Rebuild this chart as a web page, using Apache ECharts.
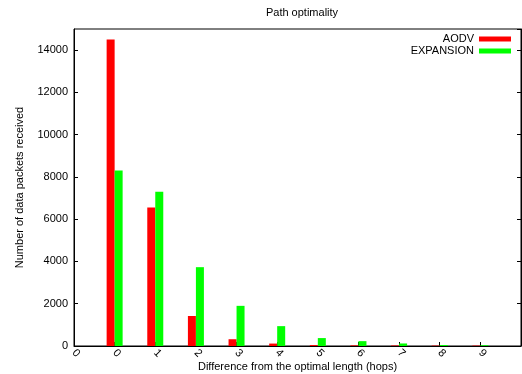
<!DOCTYPE html>
<html>
<head>
<meta charset="utf-8">
<script src="https://cdn.jsdelivr.net/npm/echarts@6/dist/echarts.min.js"></script>
<style>
html,body{margin:0;padding:0;background:#fff;}
#chart{width:522px;height:374px;}
</style>
</head>
<body>
<div id="chart"></div>
<script>
// Data
const hops = [0, 1, 2, 3, 4, 5, 6, 7, 8, 9];
const aodv = [14500, 6550, 1420, 320, 115, 45, 30, 25, 20, 20];
const expansion = [8300, 7300, 3730, 1900, 940, 375, 230, 120, 45, 35];
// tick labels for positions -1 .. 9
const xTickLabels = ['0', '0', '1', '2', '3', '4', '5', '6', '7', '8', '9'];
const seriesNames = ['AODV', 'EXPANSION'];

const font = 'Liberation Sans, Arial, sans-serif';
const chart = echarts.init(document.getElementById('chart'), null, {renderer: 'canvas'});
chart.setOption({
  animation: false,
  backgroundColor: '#fff',
  textStyle: {fontFamily: font},
  title: {
    text: 'Path optimality',
    left: 297,
    textAlign: 'center',
    top: 2,
    textStyle: {fontSize: 11, fontWeight: 'normal', color: '#000', fontFamily: font}
  },
  legend: {
    data: seriesNames,
    orient: 'vertical',
    right: 11,
    top: 33,
    align: 'right',
    icon: 'rect',
    itemWidth: 32,
    itemHeight: 5,
    itemGap: 0,
    textStyle: {fontSize: 11, color: '#000', fontFamily: font, lineHeight: 12},
    padding: 0
  },
  grid: {
    left: 74, right: 1, top: 29, bottom: 28,
    containLabel: false,
    outerBoundsMode: 'none',
    show: true, borderColor: '#000', borderWidth: 1, backgroundColor: 'transparent'
  },
  xAxis: {
    type: 'value',
    min: -1, max: 10, interval: 1,
    name: 'Difference from the optimal length (hops)',
    nameLocation: 'middle',
    nameGap: 15,
    nameMoveOverlap: false,
    nameTextStyle: {fontSize: 11, color: '#000', fontFamily: font},
    axisLine: {show: true, onZero: false, lineStyle: {color: '#000', width: 1}},
    axisTick: {show: true, inside: true, length: 4, lineStyle: {color: '#000'}},
    axisLabel: {
      fontSize: 11, color: '#000', rotate: -45, margin: 5, showMaxLabel: false,
      formatter: function (v) { const i = Math.round(v) + 1; return xTickLabels[i] !== undefined ? xTickLabels[i] : ''; }
    },
    splitLine: {show: false}
  },
  yAxis: [{
    type: 'value',
    min: 0, max: 15000, interval: 2000,
    name: 'Number of data packets received',
    nameLocation: 'middle',
    nameGap: 49,
    nameMoveOverlap: false,
    nameTextStyle: {fontSize: 11, color: '#000', fontFamily: font},
    axisLine: {show: true, onZero: false, lineStyle: {color: '#000', width: 1}},
    axisTick: {show: true, inside: true, length: 4, lineStyle: {color: '#000'}},
    axisLabel: {fontSize: 11, color: '#000', margin: 6, showMaxLabel: false,
      formatter: function (v) { return String(v); }},
    splitLine: {show: false}
  }, {
    type: 'value',
    position: 'right',
    min: 0, max: 15000, interval: 2000,
    axisLine: {show: true, onZero: false, lineStyle: {color: '#000', width: 1}},
    axisTick: {show: true, inside: true, length: 4, lineStyle: {color: '#000'}},
    axisLabel: {show: false},
    splitLine: {show: false}
  }],
  series: [{
    name: seriesNames[0],
    type: 'bar',
    data: hops.map((h, i) => [h, aodv[i]]),
    barWidth: 8,
    barGap: '0%',
    itemStyle: {color: '#ff0000'}
  }, {
    name: seriesNames[1],
    type: 'bar',
    data: hops.map((h, i) => [h, expansion[i]]),
    barWidth: 8,
    barGap: '0%',
    itemStyle: {color: '#00ff00'}
  }]
});
</script>
</body>
</html>
